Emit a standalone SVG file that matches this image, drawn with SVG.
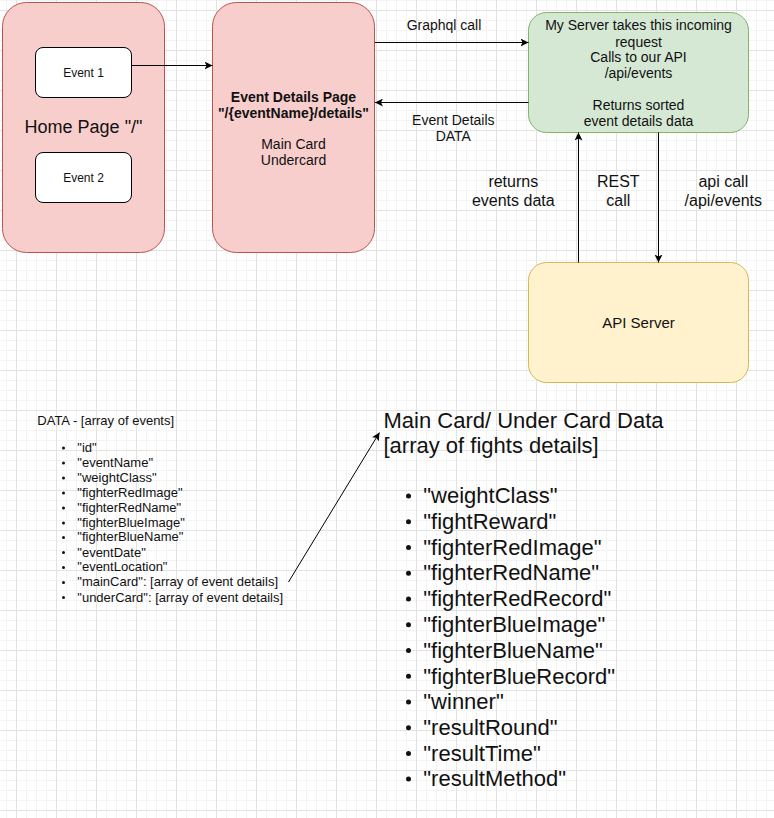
<svg xmlns="http://www.w3.org/2000/svg" width="774" height="818" viewBox="0 0 774 818">
<defs>
<pattern id="grid" x="16" y="10" width="40" height="40" patternUnits="userSpaceOnUse">
<rect x="0" y="0" width="40" height="40" fill="#ffffff"/>
<rect x="10" y="0" width="1" height="40" fill="#f3f3f3"/>
<rect x="20" y="0" width="1" height="40" fill="#f3f3f3"/>
<rect x="30" y="0" width="1" height="40" fill="#f3f3f3"/>
<rect x="0" y="10" width="40" height="1" fill="#f3f3f3"/>
<rect x="0" y="20" width="40" height="1" fill="#f3f3f3"/>
<rect x="0" y="30" width="40" height="1" fill="#f3f3f3"/>
<rect x="0" y="0" width="1" height="40" fill="#e2e2e2"/>
<rect x="0" y="0" width="40" height="1" fill="#e2e2e2"/>
</pattern>
<marker id="arr" viewBox="0 0 8 8" refX="8" refY="4" markerWidth="8" markerHeight="8" markerUnits="userSpaceOnUse" orient="auto">
<path d="M0,0 L8,4 L0,8 L2,4 Z" fill="#000"/>
</marker>
</defs>
<style>
text{font-family:"Liberation Sans",Arial,sans-serif;fill:#111;}
.c{text-anchor:middle;dominant-baseline:central;}
.l{dominant-baseline:central;}
.pink{fill:#f8cecc;stroke:#b85450;stroke-width:1;}
.white{fill:#ffffff;stroke:#000;stroke-width:1;}
.green{fill:#d5e8d4;stroke:#82b366;stroke-width:1;}
.yellow{fill:#fff2cc;stroke:#d6b656;stroke-width:1;}
.edge{fill:none;stroke:#000;stroke-width:1;marker-end:url(#arr);}
.s13{font-size:13px;}
.s14{font-size:14px;}
.s16{font-size:16px;}
.s22{font-size:22px;}
</style>
<rect x="0" y="0" width="774" height="818" fill="url(#grid)"/>

<g id="home-page">
<rect class="pink" x="2.5" y="2.5" width="162" height="250" rx="24"/>
<text class="c" x="83.5" y="127" style="font-size:18px">Home Page "/"</text>
</g>
<g id="event-1">
<rect class="white" x="35.5" y="47.5" width="96" height="50" rx="7.5"/>
<text class="c" x="83.5" y="72.5" style="font-size:12px">Event 1</text>
</g>
<g id="event-2">
<rect class="white" x="35.5" y="152.5" width="96" height="50" rx="7.5"/>
<text class="c" x="83.5" y="177.5" style="font-size:12px">Event 2</text>
</g>
<g id="event-details-page">
<rect class="pink" x="212.5" y="2.5" width="162" height="250" rx="24"/>
<text class="c s14" x="293.5" y="96.7" font-weight="bold">Event Details Page</text>
<text class="c s14" x="293.5" y="112.7" font-weight="bold">"/{eventName}/details"</text>
<text class="c s14" x="293.5" y="144">Main Card</text>
<text class="c s14" x="293.5" y="160">Undercard</text>
</g>
<g id="my-server">
<rect class="green" x="528.5" y="12.5" width="220" height="120" rx="18"/>
<text class="c s14" x="638.5" y="25">My Server takes this incoming</text>
<text class="c s14" x="638.5" y="41.5">request</text>
<text class="c s14" x="638.5" y="57.3">Calls to our API</text>
<text class="c s14" x="638.5" y="72.7">/api/events</text>
<text class="c s14" x="638.5" y="105">Returns sorted</text>
<text class="c s14" x="638.5" y="120.7">event details data</text>
</g>
<g id="api-server">
<rect class="yellow" x="528.5" y="262.5" width="220" height="120" rx="18"/>
<text class="c" x="638.5" y="322.5" style="font-size:15px">API Server</text>
</g>

<g id="connectors">
<line class="edge" x1="131.5" y1="65.5" x2="212.5" y2="65.5"/>
<line class="edge" x1="375" y1="42.5" x2="528.5" y2="42.5"/>
<line class="edge" x1="528.5" y1="102.5" x2="375" y2="102.5"/>
<line class="edge" x1="578.5" y1="262.5" x2="578.5" y2="132.5"/>
<line class="edge" x1="658.5" y1="132.5" x2="658.5" y2="262.5"/>
<line class="edge" x1="288.5" y1="582" x2="379.5" y2="432.5"/>
</g>

<g id="edge-labels">
<text class="c s14" x="444" y="25">Graphql call</text>
<text class="c s14" x="453.3" y="120">Event Details</text>
<text class="c s14" x="453.3" y="136">DATA</text>
<text class="c s16" x="513.3" y="181.7">returns</text>
<text class="c s16" x="513.3" y="200">events data</text>
<text class="c s16" x="618.3" y="181.7">REST</text>
<text class="c s16" x="618.3" y="200">call</text>
<text class="c s16" x="723.3" y="181.7">api call</text>
<text class="c s16" x="723.3" y="200">/api/events</text>
</g>

<g id="data-list">
<text class="l s13" x="37.3" y="420">DATA - [array of events]</text>
<g fill="#111">
<circle cx="63.5" cy="448" r="1.5"/><circle cx="63.5" cy="463" r="1.5"/><circle cx="63.5" cy="478" r="1.5"/><circle cx="63.5" cy="493" r="1.5"/><circle cx="63.5" cy="508" r="1.5"/><circle cx="63.5" cy="523" r="1.5"/><circle cx="63.5" cy="537.5" r="1.5"/><circle cx="63.5" cy="552.5" r="1.5"/><circle cx="63.5" cy="567.5" r="1.5"/><circle cx="63.5" cy="582.5" r="1.5"/><circle cx="63.5" cy="597.5" r="1.5"/>
</g>
<text class="l s13" x="77.3" y="447.7">"id"</text>
<text class="l s13" x="77.3" y="462.5">"eventName"</text>
<text class="l s13" x="77.3" y="477.3">"weightClass"</text>
<text class="l s13" x="77.3" y="492.3">"fighterRedImage"</text>
<text class="l s13" x="77.3" y="507.3">"fighterRedName"</text>
<text class="l s13" x="77.3" y="522.3">"fighterBlueImage"</text>
<text class="l s13" x="77.3" y="536.9">"fighterBlueName"</text>
<text class="l s13" x="77.3" y="552">"eventDate"</text>
<text class="l s13" x="77.3" y="566.8">"eventLocation"</text>
<text class="l s13" x="77.3" y="581.7">"mainCard": [array of event details]</text>
<text class="l s13" x="77.3" y="597">"underCard": [array of event details]</text>
</g>

<g id="card-data-list">
<text class="l s22" x="383.5" y="420.7">Main Card/ Under Card Data</text>
<text class="l s22" x="383.5" y="445">[array of fights details]</text>
<g fill="#111">
<circle cx="408.5" cy="496" r="2.5"/><circle cx="408.5" cy="521.8" r="2.5"/><circle cx="408.5" cy="547.5" r="2.5"/><circle cx="408.5" cy="573.2" r="2.5"/><circle cx="408.5" cy="599" r="2.5"/><circle cx="408.5" cy="624.7" r="2.5"/><circle cx="408.5" cy="650.5" r="2.5"/><circle cx="408.5" cy="676.2" r="2.5"/><circle cx="408.5" cy="702" r="2.5"/><circle cx="408.5" cy="727.7" r="2.5"/><circle cx="408.5" cy="753.5" r="2.5"/><circle cx="408.5" cy="779" r="2.5"/>
</g>
<text class="l s22" x="423.3" y="495.7">"weightClass"</text>
<text class="l s22" x="423.3" y="521.5">"fightReward"</text>
<text class="l s22" x="423.3" y="547">"fighterRedImage"</text>
<text class="l s22" x="423.3" y="572.8">"fighterRedName"</text>
<text class="l s22" x="423.3" y="598.6">"fighterRedRecord"</text>
<text class="l s22" x="423.3" y="624.4">"fighterBlueImage"</text>
<text class="l s22" x="423.3" y="650.2">"fighterBlueName"</text>
<text class="l s22" x="423.3" y="676">"fighterBlueRecord"</text>
<text class="l s22" x="423.3" y="701.8">"winner"</text>
<text class="l s22" x="423.3" y="727.6">"resultRound"</text>
<text class="l s22" x="423.3" y="753.3">"resultTime"</text>
<text class="l s22" x="423.3" y="778.6">"resultMethod"</text>
</g>
</svg>
